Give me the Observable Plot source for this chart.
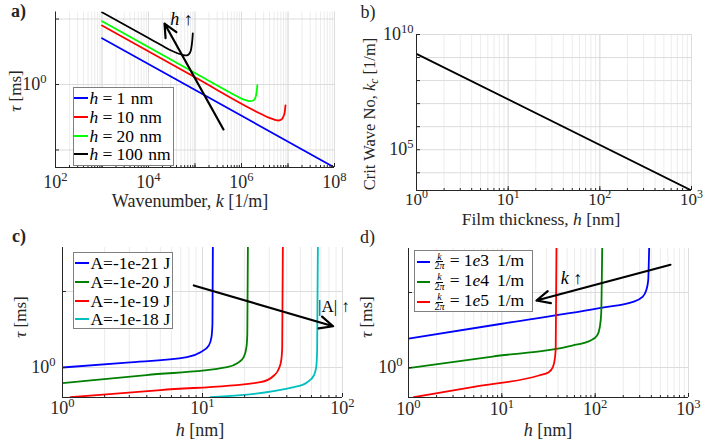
<!DOCTYPE html>
<html>
<head>
<meta charset="utf-8">
<script src="https://cdn.jsdelivr.net/npm/d3@7"></script>
<script src="https://cdn.jsdelivr.net/npm/@observablehq/plot@0.6"></script>
<style>
html,body{margin:0;padding:0;background:#fff;}
#fig{position:relative;width:706px;height:440px;overflow:hidden;font-family:"Liberation Serif","Times New Roman",serif;color:#262626;background:#fff;}
.panel{position:absolute;width:353px;height:220px;}
.panel svg{display:block;}
.txt{position:absolute;white-space:nowrap;line-height:0.8;}
.legend{position:absolute;box-sizing:border-box;border:1px solid #808080;background:#fff;}
.lgline{position:absolute;height:2px;}
.lgtext{position:absolute;white-space:nowrap;line-height:0.8;color:#000;font-size:17.5px;transform:translateY(-50%);}
.frac{display:inline-flex;flex-direction:column;align-items:center;vertical-align:middle;font-size:10px;line-height:0.85;margin:0 1px 0 3px;}
.frac .num{border-bottom:0.9px solid #000;padding:0 1px;}
.eq{margin:0 0.24em;}
.gap{display:inline-block;width:0.32em;}
.sub{font-size:70%;position:relative;top:0.3em;}
</style>
</head>
<body>
<div id="fig"></div>
<script>
// ---------------- Panel a: tau [ms] vs wavenumber k [1/m] ----------------
const aLegendH = ["1", "10", "20", "100"];             // film thickness h [nm]
const aColors  = ["#0000ff", "#ff0000", "#00ff00", "#000000"];
const aK_h1    = [1e3, 1e8];
const aTau_h1  = [5.1, 0.054];
const aK_h10   = [1e3, 1e5, 2.51e6, 3.98e6, 5.25e6, 6.31e6, 7.24e6, 7.94e6, 8.51e6, 8.83e6];
const aTau_h10 = [7.96, 1.29, 0.361, 0.309, 0.288, 0.282, 0.292, 0.324, 0.380, 0.479];
const aK_h20   = [1e3, 1e5, 6.31e5, 1e6, 1.26e6, 1.51e6, 1.78e6, 1.95e6, 2.09e6, 2.16e6, 2.19e6];
const aTau_h20 = [9.25, 1.50, 0.724, 0.610, 0.575, 0.556, 0.569, 0.610, 0.724, 0.871, 0.977];
const aK_h100  = [1e3, 1e4, 2.0e4, 3.16e4, 4.47e4, 5.62e4, 6.61e4, 7.41e4, 8.13e4, 8.51e4, 8.81e4, 8.97e4];
const aTau_h100= [12.7, 5.12, 3.90, 3.27, 2.95, 2.82, 2.79, 2.92, 3.31, 3.98, 5.01, 6.03];
const aArrowK   = [4.10e5, 2.21e4];   // tail, head
const aArrowTau = [0.206, 8.53];
const aXTicks = [1e2, 1e4, 1e6, 1e8];
const aYTicks = [1];

// ---------------- Panel b: critical wavenumber vs film thickness ----------------
const bH  = [1, 1000];
const bKc = [1.45e9, 1.7e3];
const bXTicks = [1, 10, 100, 1000];
const bYTicks = [1e5, 1e10];

// ---------------- Panel c: tau vs h for Hamaker constants ----------------
const cLegendA = ["-1e-21", "-1e-20", "-1e-19", "-1e-18"];
const cColors  = ["#0000ff", "#008000", "#ff0000", "#00bfbf"];
const cH_21   = [1, 2.88, 7.76, 9.68, 11.1, 11.59, 11.78, 11.86];
const cTau_21 = [1.0, 1.16, 1.37, 1.59, 1.95, 2.51, 3.76, 40];
const cH_20   = [1, 3.98, 15.0, 17.7, 19.7, 20.6, 20.9, 21.1];
const cTau_20 = [0.622, 0.796, 1.01, 1.14, 1.37, 1.85, 2.77, 40];
const cH_19   = [1.14, 5.01, 25.9, 32.4, 35.1, 36.5, 37.1, 37.5];
const cTau_19 = [0.407, 0.505, 0.641, 0.785, 0.962, 1.24, 1.85, 40];
const cH_18   = [11.4, 44.9, 56.0, 62.4, 64.9, 65.9, 66.7];
const cTau_18 = [0.407, 0.551, 0.641, 0.785, 1.01, 1.67, 40];
const cArrowH   = [8.67, 85.7];
const cArrowTau = [12.0, 3.49];
const cXTicks = [1, 10, 100];
const cYTicks = [1];

// ---------------- Panel d: tau vs h for wavenumbers ----------------
const dLegendExp = ["3", "4", "5"];   // k/2pi = 1e3, 1e4, 1e5 1/m
const dColors  = ["#0000ff", "#008000", "#ff0000"];
const dH_3   = [1, 10, 129, 249, 319, 352, 370, 379];
const dTau_3 = [2.42, 3.83, 6.37, 7.43, 8.65, 10.6, 14.5, 40];
const dH_4   = [1, 7.94, 56.8, 89.1, 105, 112, 116, 119];
const dTau_4 = [0.98, 1.40, 1.96, 2.29, 2.67, 3.44, 5.20, 40];
const dH_5   = [1.14, 5.01, 24.9, 31.8, 35.2, 37.0, 37.8, 38.5];
const dTau_5 = [0.402, 0.553, 0.782, 0.865, 1.01, 1.31, 1.87, 40];
const dArrowH   = [641, 23.5];
const dArrowTau = [23.4, 7.82];
const dXTicks = [1, 10, 100, 1000];
const dYTicks = [1];

// ---------------- helpers ----------------
const fig = document.getElementById("fig");
const FONT = '"Liberation Serif", "Times New Roman", serif';
const AX = "#262626", GMAJ = "#dcdcdc", GMIN = "#ececec";
const rows = (xs, ys) => xs.map((x, i) => ({x, y: ys[i]}));
const fmtPow = d => "10^" + Math.round(Math.log10(d));

function supify(svg) {
  d3.select(svg).selectAll("text").each(function () {
    const m = /^10\^(-?\d+)$/.exec(this.textContent);
    if (!m) return;
    this.textContent = "10";
    d3.select(this).append("tspan").attr("dy", "-7").attr("font-size", "70%").text(m[1]);
  });
}

function curve(xs, ys, color, curveType = "monotone-x") {
  return Plot.line(rows(xs, ys), {x: "x", y: "y", stroke: color, strokeWidth: 1.8, curve: curveType, clip: true});
}
function arrow(xs, ys) {
  return Plot.arrow([{x1: xs[0], y1: ys[0], x2: xs[1], y2: ys[1]}],
    {x1: "x1", y1: "y1", x2: "x2", y2: "y2", stroke: "#000", strokeWidth: 2.2, headLength: 10, headAngle: 50});
}

function panel(cfg) {
  const fw = 353 - cfg.ml - cfg.mr, fh = 220 - cfg.mt - cfg.mb;
  const xMinor = d3.scaleLog().domain(cfg.xDomain).ticks();
  const svg = Plot.plot({
    width: 353, height: 220,
    marginLeft: cfg.ml, marginRight: cfg.mr, marginTop: cfg.mt, marginBottom: cfg.mb,
    x: {type: "log", domain: cfg.xDomain},
    y: {type: "log", domain: cfg.yDomain},
    style: {fontFamily: FONT, fontSize: "18px", color: AX, background: "transparent", overflow: "visible"},
    marks: [
      Plot.ruleX(xMinor, {stroke: GMIN}),
      Plot.ruleX(cfg.xMajor, {stroke: GMAJ}),
      Plot.ruleY(cfg.yGrid, {stroke: GMAJ}),
      ...cfg.marks,
      Plot.ruleX([cfg.xDomain[0]], {stroke: AX}),
      Plot.ruleY([cfg.yDomain[0]], {stroke: AX}),
      Plot.tickX(xMinor, {x: d => d, insetTop: fh - 2, stroke: AX}),
      Plot.tickX(cfg.xMajor, {x: d => d, insetTop: fh - 4, stroke: AX}),
      Plot.tickY(cfg.yGrid, {y: d => d, insetRight: fw - 4, stroke: AX}),
      Plot.axisX({ticks: cfg.xTicks, tickSize: 0, tickPadding: cfg.xPad, tickFormat: fmtPow, label: null, fontSize: cfg.xFont || 18}),
      Plot.axisY({ticks: cfg.yTicks, tickSize: 0, tickPadding: cfg.yPad, tickFormat: fmtPow, label: null, fontSize: 18})
    ]
  });
  supify(svg);
  const holder = document.createElement("div");
  holder.className = "panel";
  holder.style.left = cfg.left + "px";
  holder.style.top = cfg.top + "px";
  holder.appendChild(svg);
  fig.appendChild(holder);
}

function txt(html, x, y, o = {}) {
  const d = document.createElement("div");
  d.className = "txt";
  d.innerHTML = html;
  d.style.left = x + "px";
  d.style.top = y + "px";
  d.style.fontSize = (o.size || 18) + "px";
  if (o.bold) d.style.fontWeight = "bold";
  if (o.color) d.style.color = o.color;
  const tx = o.anchor === "start" ? "0" : "-50%";
  d.style.transform = `translate(${tx},-50%)` + (o.rotate ? " rotate(-90deg)" : "");
  fig.appendChild(d);
}

function legend(box, items) {
  const lg = document.createElement("div");
  lg.className = "legend";
  Object.assign(lg.style, {left: box.x + "px", top: box.y + "px", width: box.w + "px", height: box.h + "px"});
  items.forEach((it, i) => {
    const cy = box.rowsY[i] - box.y - 1;
    const ln = document.createElement("div");
    ln.className = "lgline";
    Object.assign(ln.style, {left: (box.sx0 - box.x - 1) + "px", width: (box.sx1 - box.sx0) + "px", top: (cy - 1) + "px", background: it.color});
    lg.appendChild(ln);
    const t = document.createElement("div");
    t.className = "lgtext";
    t.innerHTML = it.html;
    Object.assign(t.style, {left: (box.tx - box.x - 1) + "px", top: cy + "px"});
    lg.appendChild(t);
  });
  fig.appendChild(lg);
}

// ---------------- build panels ----------------
panel({
  left: 0, top: 0, ml: 55, mr: 19, mt: 11.5, mb: 53,
  xDomain: [1e2, 1e8], yDomain: [0.054, 12.8],
  xMajor: [1e2, 1e3, 1e4, 1e5, 1e6, 1e7, 1e8], yGrid: [0.1, 1, 10],
  xTicks: aXTicks, yTicks: aYTicks, xPad: 8, yPad: 9,
  marks: [
    curve(aK_h1, aTau_h1, aColors[0], "linear"),
    curve(aK_h10, aTau_h10, aColors[1]),
    curve(aK_h20, aTau_h20, aColors[2]),
    curve(aK_h100, aTau_h100, aColors[3]),
    arrow(aArrowK, aArrowTau)
  ]
});
panel({
  left: 353, top: 0, ml: 63, mr: 15, mt: 34, mb: 30,
  xDomain: [1, 1e3], yDomain: [1.7e3, 1e10],
  xMajor: [1, 10, 100, 1000], yGrid: [1e4, 1e5, 1e6, 1e7, 1e8, 1e9, 1e10],
  xTicks: bXTicks, yTicks: bYTicks, xPad: 2, yPad: 3, xFont: 17,
  marks: [curve(bH, bKc, "#000000", "linear")]
});
panel({
  left: 0, top: 220, ml: 62, mr: 11, mt: 27, mb: 43,
  xDomain: [1, 100], yDomain: [0.403, 37.9],
  xMajor: [1, 10, 100], yGrid: [1, 10],
  xTicks: cXTicks, yTicks: cYTicks, xPad: 3.5, yPad: 7,
  marks: [
    curve(cH_21, cTau_21, cColors[0]),
    curve(cH_20, cTau_20, cColors[1]),
    curve(cH_19, cTau_19, cColors[2]),
    curve(cH_18, cTau_18, cColors[3]),
    arrow(cArrowH, cArrowTau)
  ]
});
panel({
  left: 353, top: 220, ml: 55, mr: 18, mt: 28, mb: 43,
  xDomain: [1, 1e3], yDomain: [0.398, 38.6],
  xMajor: [1, 10, 100, 1000], yGrid: [1, 10],
  xTicks: dXTicks, yTicks: dYTicks, xPad: 5, yPad: 6,
  marks: [
    curve(dH_3, dTau_3, dColors[0]),
    curve(dH_4, dTau_4, dColors[1]),
    curve(dH_5, dTau_5, dColors[2]),
    arrow(dArrowH, dArrowTau)
  ]
});

// ---------------- legends ----------------
legend({x: 72.7, y: 87.3, w: 101.5, h: 78.5, rowsY: [98, 117, 136, 154.5], sx0: 74.5, sx1: 88, tx: 89.5},
  aLegendH.map((h, i) => ({color: aColors[i], html: `<i>h</i><span class="eq">=</span>${h}<span class="gap"></span>nm`})));
legend({x: 72.7, y: 252.3, w: 100.8, h: 76.5, rowsY: [263.3, 281.7, 301, 319.3], sx0: 75, sx1: 89, tx: 90.5},
  cLegendA.map((a, i) => ({color: cColors[i], html: `A=${a}<span class="gap" style="width:0.28em"></span>J`})));
legend({x: 414.3, y: 250, w: 118.5, h: 62, rowsY: [261.7, 282.3, 302.3], sx0: 416.7, sx1: 430, tx: 431.5},
  dLegendExp.map((e, i) => ({color: dColors[i],
    html: `<span class="frac"><span class="num"><i>k</i></span><span>2<i>π</i></span></span><span class="eq">=</span>1<i>e</i>${e}<span class="gap" style="width:0.45em"></span>1/m`})));

// ---------------- axis labels, panel letters, annotations ----------------
txt("a)", 18.5, 11, {bold: true});
txt("b)", 368, 11.5);
txt("c)", 19, 236, {bold: true});
txt("d)", 367.5, 236.5);

txt("Wavenumber, <i>k</i> [1/m]", 190, 201);
txt("<i>τ</i> [ms]", 16, 91, {rotate: true, size: 17});
txt("Film thickness, <i>h</i> [nm]", 541, 218.5, {size: 17.5});
txt("Crit Wave No, <i>k</i><span class=\"sub\"><i>c</i></span> [1/m]", 370, 114, {rotate: true, size: 16.5});
txt("<i>h</i> [nm]", 200, 430);
txt("<i>τ</i> [ms]", 20.5, 317, {rotate: true, size: 17});
txt("<i>h</i> [nm]", 548, 430);
txt("<i>τ</i> [ms]", 366.5, 317, {rotate: true, size: 17});

txt("<i>h</i> ↑", 181.5, 19, {color: "#000"});
txt("|A| ↑", 318, 307, {color: "#000", anchor: "start", size: 17});
txt("<i>k</i> ↑", 571.5, 278, {color: "#000"});
</script>
</body>
</html>
